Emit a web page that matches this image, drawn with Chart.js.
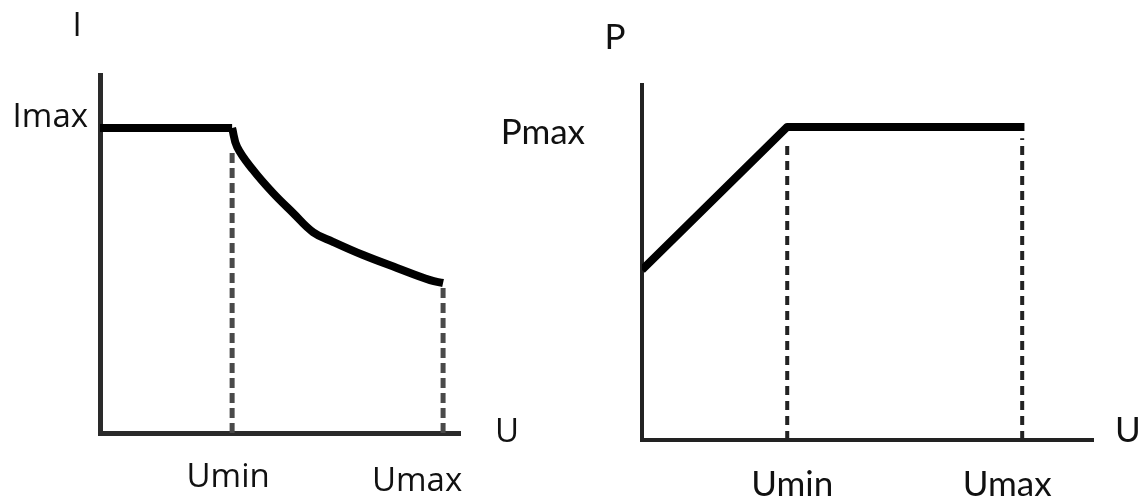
<!DOCTYPE html>
<html>
<head>
<meta charset="utf-8">
<script src="https://cdn.jsdelivr.net/npm/chart.js@4.4.1/dist/chart.umd.min.js"></script>
<style>
  html, body { margin: 0; padding: 0; background: #fff; }
  #page { position: relative; width: 1138px; height: 498px; overflow: hidden; }
  .box { position: absolute; top: 0; height: 498px; }
  #boxI { left: 0; width: 540px; }
  #boxP { left: 480px; width: 658px; }
</style>
</head>
<body>
<div id="page">
  <div class="box" id="boxI"><canvas id="chartI"></canvas></div>
  <div class="box" id="boxP"><canvas id="chartP"></canvas></div>
</div>
<script>
// Left chart: current vs voltage (axes run 0..100)
const iUmin = 36.7;
const iUmax = 95.3;
const iMax = 85.2;
const iFlatU = [0, iUmin];
const iFlat = [iMax, iMax];
const iCurveU = [36.7, 38.1, 42.5, 48.1, 53.6, 59.2, 64.7, 73.1, 82.5, 91.7, 95.3];
const iCurve = [85.2, 79.9, 73.5, 67.0, 61.5, 56.1, 53.4, 49.7, 46.1, 42.7, 41.9];
const iDropUmin = [0, 79];
const iDropUmax = [0, 40.8];

// Right chart: power vs voltage
const pUmin = 32.2;
const pUmax = 84.3;
const pMax = 88.2;
const pLineU = [0, pUmin, 84.8];
const pLine = [47.9, pMax, pMax];
const pDropUmin = [0, 84.5];
const pDropUmax = [0, 85];

const pts = (xs, ys) => xs.map((x, i) => ({ x: x, y: ys[i] }));

// draws axis names and the few tick words next to the scales
const axisText = {
    id: 'axisText',
    afterDraw(chart, args, opts) {
        const { ctx, scales: { x, y } } = chart;
        ctx.save();
        ctx.font = opts.font;
        ctx.fillStyle = opts.color;
        ctx.textBaseline = 'middle';
        opts.items.forEach(it => {
            ctx.textAlign = it.align || 'center';
            ctx.fillText(it.text, x.getPixelForValue(it.u) + it.dx, y.getPixelForValue(it.v) + it.dy);
        });
        ctx.restore();
    }
};

function baseOptions(pad, axisColor, axisWidth, font, items) {
    return {
        responsive: true,
        maintainAspectRatio: false,
        animation: false,
        layout: { padding: pad, autoPadding: false },
        plugins: {
            legend: { display: false },
            tooltip: { enabled: false },
            axisText: { font: font, color: '#111', items: items }
        },
        elements: { point: { radius: 0 } },
        scales: {
            x: {
                type: 'linear', min: 0, max: 100,
                grid: { display: false, drawTicks: false },
                ticks: { display: false },
                border: { display: true, width: axisWidth, color: axisColor }
            },
            y: {
                type: 'linear', min: 0, max: 100,
                grid: { display: false, drawTicks: false },
                ticks: { display: false },
                border: { display: true, width: axisWidth, color: axisColor }
            }
        }
    };
}

function dashSet(data, color, width, dash) {
    return { data: data, borderColor: color, borderWidth: width, borderDash: dash, tension: 0 };
}

new Chart(document.getElementById('chartI'), {
    type: 'line',
    data: {
        datasets: [
            dashSet(pts([iUmin, iUmin], iDropUmin), '#4a4a4a', 5, [10, 5]),
            dashSet(pts([iUmax, iUmax], iDropUmax), '#4a4a4a', 5, [10, 5]),
            { data: pts(iFlatU, iFlat), borderColor: '#000', borderWidth: 8, tension: 0 },
            { data: pts(iCurveU, iCurve), borderColor: '#000', borderWidth: 8, tension: 0.4 }
        ]
    },
    options: baseOptions({ left: 100, right: 80, top: 75, bottom: 65 }, '#2a2a2a', 5,
        '33px "Open Sans"', [
            { text: 'I', u: 0, v: 100, dx: -23, dy: -48 },
            { text: 'Imax', u: 0, v: iMax, dx: -12, dy: -10, align: 'right' },
            { text: 'U', u: 100, v: 0, dx: 35, dy: 0, align: 'left' },
            { text: 'Umin', u: iUmin, v: 0, dx: -4, dy: 45 },
            { text: 'Umax', u: iUmax, v: 0, dx: -26, dy: 49 }
        ]),
    plugins: [axisText]
});

new Chart(document.getElementById('chartP'), {
    type: 'line',
    data: {
        datasets: [
            dashSet(pts([pUmin, pUmin], pDropUmin), '#222', 4, [9, 6]),
            dashSet(pts([pUmax, pUmax], pDropUmax), '#222', 4, [9, 6]),
            { data: pts(pLineU, pLine), borderColor: '#000', borderWidth: 8, tension: 0, borderJoinStyle: 'round' }
        ]
    },
    options: baseOptions({ left: 162, right: 45, top: 85, bottom: 58 }, '#222', 4,
        '35px Lato', [
            { text: 'P', u: 0, v: 100, dx: -27, dy: -47 },
            { text: 'Pmax', u: 0, v: pMax, dx: -57, dy: 6, align: 'right' },
            { text: 'U', u: 100, v: 0, dx: 22, dy: -9, align: 'left' },
            { text: 'Umin', u: pUmin, v: 0, dx: 5, dy: 45 },
            { text: 'Umax', u: pUmax, v: 0, dx: -15, dy: 45 }
        ]),
    plugins: [axisText]
});
</script>
</body>
</html>
